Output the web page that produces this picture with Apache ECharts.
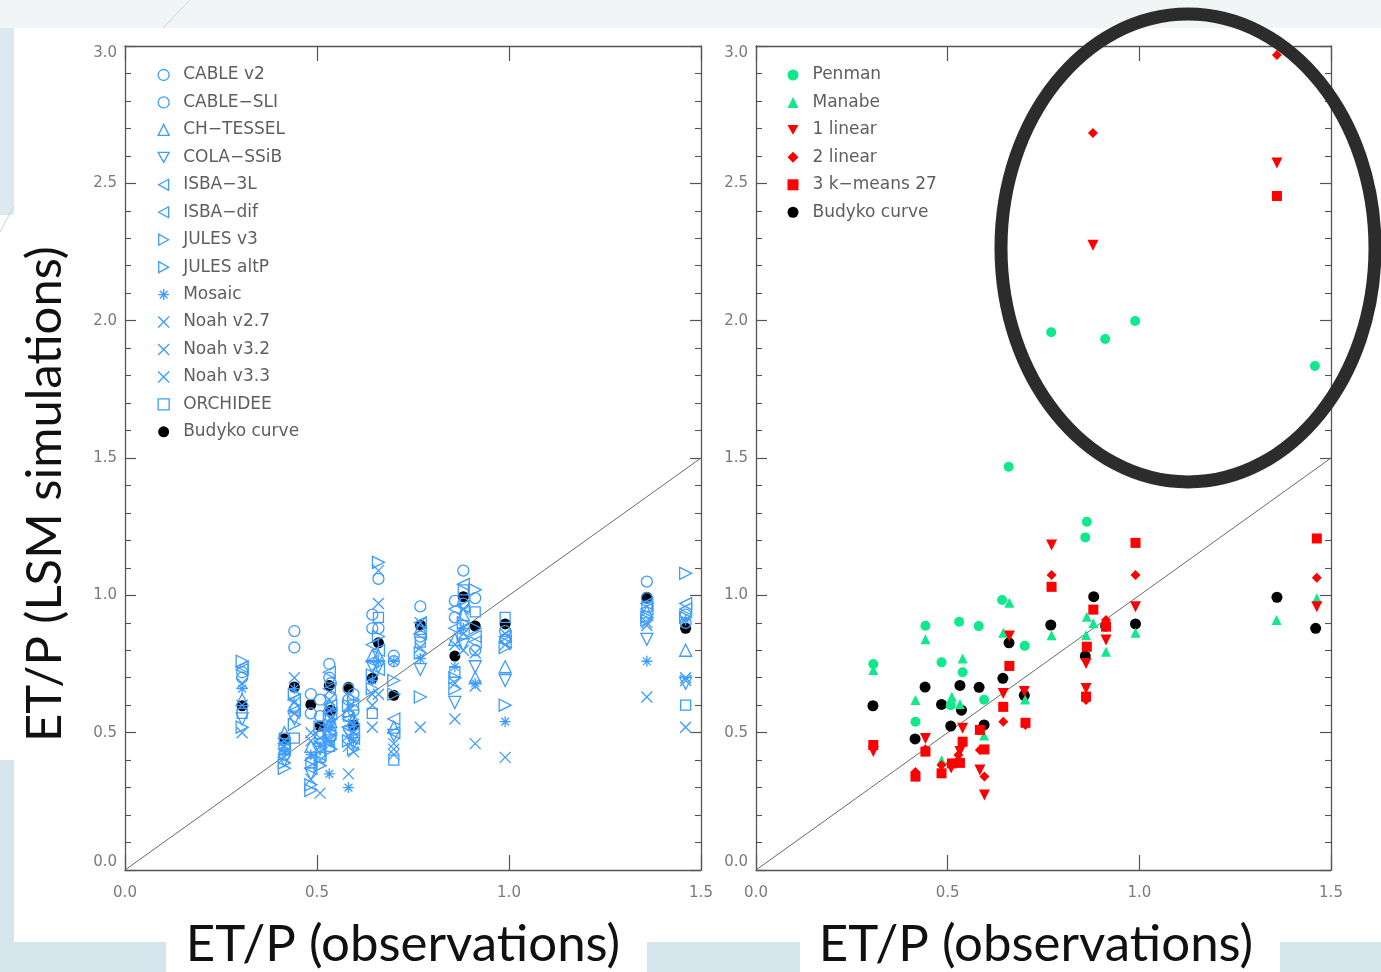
<!DOCTYPE html>
<html><head><meta charset="utf-8">
<script src="https://cdn.jsdelivr.net/npm/echarts@6/dist/echarts.min.js"></script>
<style>html,body{margin:0;padding:0;background:#fff}#c{width:1381px;height:972px}</style>
</head><body><div id="c"></div>
<script>
// ---------------- DATA ----------------
const xTicks = [0.0, 0.5, 1.0, 1.5];
const yTicks = [0.0, 0.5, 1.0, 1.5, 2.0, 2.5, 3.0];
const sitesX = [0.305,0.415,0.441,0.484,0.508,0.532,0.536,0.582,0.595,0.644,0.660,0.700,0.769,0.859,0.881,0.912,0.990,1.359,1.460];
const budyko = [0.598,0.477,0.666,0.603,0.524,0.672,0.582,0.665,0.528,0.698,0.827,0.636,0.892,0.779,0.995,0.888,0.896,0.993,0.880];
const cableV2   = [0.72,0.45,0.87,0.64,0.62,0.75,0.68,0.66,0.64,0.93,1.06,0.78,0.96,0.98,1.09,0.99,0.84,1.05,0.93];
const cableSLI  = [0.70,0.42,0.81,0.57,0.56,0.70,0.63,0.62,0.58,0.88,0.88,0.76,0.85,0.92,0.97,0.80,0.87,0.99,0.90];
const chTessel  = [0.62,0.50,0.60,0.45,0.50,0.60,0.54,0.58,0.55,0.78,0.78,0.52,0.88,0.84,0.93,0.70,0.74,0.94,0.80];
const colaSSiB  = [0.55,0.40,0.55,0.35,0.44,0.52,0.47,0.50,0.46,0.74,0.74,0.49,0.73,0.61,0.82,0.74,0.69,0.84,0.68];
const isba3L    = [0.74,0.44,0.62,0.40,0.47,0.72,0.60,0.55,0.51,0.82,0.73,0.55,0.90,0.95,1.04,0.85,0.83,0.97,0.97];
const isbaDif   = [0.73,0.46,0.58,0.37,0.42,0.66,0.57,0.52,0.48,0.76,0.80,0.50,0.86,0.88,0.96,0.83,0.85,0.95,0.95];
const julesV3   = [0.76,0.37,0.64,0.29,0.52,0.55,0.50,0.60,0.62,0.71,1.12,0.69,0.63,0.66,0.90,1.02,0.60,0.92,1.08];
const julesAltP = [0.52,0.39,0.53,0.31,0.38,0.49,0.44,0.47,0.44,0.66,0.85,0.64,0.79,0.70,0.85,0.88,0.81,0.91,0.92];
const mosaic    = [0.66,0.43,0.66,0.42,0.45,0.35,0.52,0.30,0.47,0.69,0.76,0.76,0.77,0.74,0.88,0.68,0.54,0.76,0.91];
const noah27    = [0.68,0.47,0.70,0.50,0.28,0.62,0.55,0.35,0.50,0.52,1.09,0.46,0.52,0.55,0.80,0.46,0.41,0.63,0.52];
const noah32    = [0.60,0.41,0.61,0.33,0.40,0.47,0.46,0.49,0.43,0.60,0.97,0.42,0.90,0.82,0.95,0.79,0.82,0.90,0.70];
const noah33    = [0.50,0.45,0.57,0.47,0.48,0.58,0.53,0.45,0.53,0.64,0.64,0.44,0.81,0.68,0.86,0.67,0.86,0.89,0.69];
const orchidee  = [0.57,0.48,0.48,0.39,0.41,0.45,0.49,0.56,0.60,0.57,0.92,0.40,0.83,0.72,1.02,0.94,0.92,0.96,0.60];

const penman = [[0.306,0.75],[0.416,0.54],[0.442,0.889],[0.484,0.756],[0.508,0.60],[0.530,0.904],[0.539,0.72],[0.581,0.888],[0.595,0.62],[0.642,0.983],[0.659,1.468],[0.701,0.816],[0.770,1.958],[0.859,1.211],[0.863,1.268],[0.911,1.933],[0.989,1.999],[1.458,1.835]];
const manabe = [[0.306,0.728],[0.416,0.619],[0.442,0.84],[0.484,0.40],[0.511,0.631],[0.532,0.604],[0.539,0.77],[0.595,0.49],[0.645,0.864],[0.661,0.973],[0.702,0.621],[0.771,0.855],[0.861,0.855],[0.863,0.922],[0.880,0.898],[0.913,0.795],[0.990,0.864],[1.358,0.91],[1.463,0.989]];
const linear1 = [[0.306,0.431],[0.442,0.479],[0.509,0.371],[0.532,0.431],[0.539,0.516],[0.584,0.364],[0.596,0.273],[0.645,0.643],[0.661,0.852],[0.700,0.65],[0.771,1.183],[0.861,0.752],[0.861,0.661],[0.879,2.275],[0.913,0.837],[0.990,0.958],[1.359,2.574],[1.463,0.958]];
const linear2 = [[0.306,0.449],[0.416,0.357],[0.442,0.44],[0.484,0.382],[0.528,0.419],[0.584,0.437],[0.596,0.34],[0.645,0.54],[0.703,0.528],[0.771,1.074],[0.861,0.619],[0.879,2.683],[0.913,0.91],[0.990,1.074],[1.359,2.967],[1.463,1.064]];
const kmeans27 = [[0.306,0.455],[0.416,0.34],[0.442,0.431],[0.484,0.352],[0.511,0.388],[0.532,0.39],[0.539,0.467],[0.584,0.51],[0.596,0.439],[0.645,0.594],[0.661,0.743],[0.703,0.536],[0.771,1.031],[0.861,0.631],[0.863,0.813],[0.880,0.948],[0.913,0.886],[0.990,1.191],[1.359,2.454],[1.463,1.207]];
const oneToOne = [[0,0],[1.5,1.5]];

// ---------------- STYLE ----------------
const BLUE = '#3d9cff', GREEN = '#10e88c', RED = '#ff0000';
const SYM = {
  circle: 'circle', up: 'triangle',
  down: 'path://M0,0L10,0L5,9Z',
  left: 'path://M9,0L9,10L0,5Z',
  right: 'path://M0,0L0,10L9,5Z',
  star: 'path://M5,0L5,10M0,5L10,5M1.5,1.5L8.5,8.5M8.5,1.5L1.5,8.5',
  cross: 'path://M0,0L10,10M10,0L0,10',
  square: 'rect', diamond: 'diamond'
};
const leftModels = [
  ['CABLE v2', cableV2, 'circle', 11], ['CABLE\u2212SLI', cableSLI, 'circle', 11],
  ['CH\u2212TESSEL', chTessel, 'up', 12], ['COLA\u2212SSiB', colaSSiB, 'down', 12],
  ['ISBA\u22123L', isba3L, 'left', 12], ['ISBA\u2212dif', isbaDif, 'left', 12],
  ['JULES v3', julesV3, 'right', 12], ['JULES altP', julesAltP, 'right', 12],
  ['Mosaic', mosaic, 'star', 11], ['Noah v2.7', noah27, 'cross', 11],
  ['Noah v3.2', noah32, 'cross', 11], ['Noah v3.3', noah33, 'cross', 11],
  ['ORCHIDEE', orchidee, 'square', 10]
];
const rightModels = [
  ['Penman', penman, 'circle', GREEN, 10],
  ['Manabe', manabe, 'up', GREEN, 10],
  ['1 linear', linear1, 'down', RED, 11],
  ['2 linear', linear2, 'diamond', RED, 10],
  ['3 k\u2212means 27', kmeans27, 'square', RED, 10]
];

const AX = '#555', LBL = '#7a7a7a';
function xAxes(grid) {
  const base = {gridIndex: grid, type: 'value', min: 0, max: 1.5, interval: 0.5,
    axisLine: {show: true, onZero: false, lineStyle: {color: AX, width: 1.3}},
    axisTick: {show: true, inside: true, length: 15, lineStyle: {color: AX, width: 1.2}},
    splitLine: {show: false}, minorTick: {show: false}};
  return [
    Object.assign({}, base, {position: 'bottom', axisLabel: {show: true, margin: 16, color: LBL, fontSize: 15, fontFamily: 'DejaVu Sans', formatter: v => v.toFixed(1)}}),
    Object.assign({}, base, {position: 'top', axisLabel: {show: false}})
  ];
}
function yAxes(grid) {
  const base = {gridIndex: grid, type: 'value', min: 0, max: 3, interval: 0.5,
    axisLine: {show: true, onZero: false, lineStyle: {color: AX, width: 1.3}},
    axisTick: {show: true, inside: true, length: 11, lineStyle: {color: AX, width: 1.2}},
    minorTick: {show: true, splitNumber: 5, length: 6, lineStyle: {color: AX, width: 1.1}},
    splitLine: {show: false}};
  return [
    Object.assign({}, base, {position: 'left', axisLabel: {show: true, margin: 8, color: LBL, fontSize: 15, fontFamily: 'DejaVu Sans',
      verticalAlignMaxLabel: 'top', verticalAlignMinLabel: 'bottom', formatter: v => v.toFixed(1)}}),
    Object.assign({}, base, {position: 'right', axisLabel: {show: false}})
  ];
}

const series = [];
[0, 1].forEach(g => series.push({type: 'line', xAxisIndex: g * 2, yAxisIndex: g * 2, data: oneToOne,
  symbol: 'none', silent: true, z: 1, lineStyle: {color: '#6a6a6a', width: 1}, animation: false}));
[0, 1].forEach(g => series.push({type: 'scatter', name: 'Budyko curve', xAxisIndex: g * 2, yAxisIndex: g * 2,
  symbol: 'circle', symbolSize: 11, itemStyle: {color: '#000', opacity: 1}, z: 2,
  data: sitesX.map((x, i) => [x, budyko[i]])}));
leftModels.forEach(m => series.push({type: 'scatter', name: m[0], xAxisIndex: 0, yAxisIndex: 0,
  symbol: SYM[m[2]], symbolSize: m[3], z: 3,
  itemStyle: {color: 'rgba(0,0,0,0)', borderColor: BLUE, borderWidth: 1.3, opacity: 1},
  data: sitesX.map((x, i) => [x, m[1][i]])}));
rightModels.forEach(m => series.push({type: 'scatter', name: m[0], xAxisIndex: 2, yAxisIndex: 2,
  symbol: SYM[m[2]], symbolSize: m[4], z: 3, itemStyle: {color: m[3], opacity: 1}, data: m[1]}));
series.forEach(s => { s.emphasis = {disabled: true}; });

const legendCommon = {orient: 'vertical', padding: 0, itemWidth: 11, itemHeight: 11, itemGap: 10.45,
  selectedMode: false, itemStyle: {borderWidth: 1.3, opacity: 1},
  textStyle: {color: '#5e5e5e', fontSize: 17, fontFamily: 'DejaVu Sans', padding: [0, 0, 0, 9]}};

const TITLE = {fill: '#111', fontFamily: 'Lato', fontWeight: 400, align: 'center', verticalAlign: 'middle'};

const option = {
  animation: false,
  backgroundColor: '#f1f5f6',
  grid: [
    {left: 125, right: 680, top: 46, bottom: 102, outerBoundsMode: 'none'},
    {left: 756, right: 50, top: 46, bottom: 102, outerBoundsMode: 'none'}
  ],
  xAxis: xAxes(0).concat(xAxes(1)),
  yAxis: yAxes(0).concat(yAxes(1)),
  legend: [
    Object.assign({}, legendCommon, {left: 157.5, top: 66.5, data: leftModels.map(m => m[0]).concat(['Budyko curve'])}),
    Object.assign({}, legendCommon, {left: 787.5, top: 66.5, data: rightModels.map(m => m[0]).concat(['Budyko curve'])})
  ],
  graphic: [
    {type: 'rect', z: -10, shape: {x: 14, y: 28, width: 1367, height: 914}, style: {fill: '#ffffff'}},
    {type: 'rect', z: -10, shape: {x: 0, y: 28, width: 14, height: 944}, style: {fill: '#dde9ee'}},
    {type: 'rect', z: -9, shape: {x: 0, y: 215, width: 14, height: 545}, style: {fill: '#ffffff'}},
    {type: 'rect', z: -10, shape: {x: 0, y: 760, width: 14, height: 212}, style: {fill: '#d4e6ec'}},
    {type: 'rect', z: -10, shape: {x: 14, y: 942, width: 1367, height: 30}, style: {fill: '#d4e6ec'}},
    {type: 'rect', z: -9, shape: {x: 166, y: 930, width: 481, height: 42}, style: {fill: '#ffffff'}},
    {type: 'rect', z: -9, shape: {x: 800, y: 930, width: 480, height: 42}, style: {fill: '#ffffff'}},
    {type: 'line', z: -8, shape: {x1: 163, y1: 28, x2: 190, y2: 0}, style: {stroke: '#c9d8de', lineWidth: 1}},
    {type: 'line', z: -8, shape: {x1: 0, y1: 232, x2: 14, y2: 206}, style: {stroke: '#c9d8de', lineWidth: 1}},
    {type: 'text', z: 50, x: 403, y: 945, style: Object.assign({text: 'ET/P (observations)', fontSize: 51}, TITLE)},
    {type: 'text', z: 50, x: 1036, y: 945, style: Object.assign({text: 'ET/P (observations)', fontSize: 51}, TITLE)},
    {type: 'text', z: 50, x: 45, y: 494, rotation: Math.PI / 2, style: Object.assign({text: 'ET/P (LSM simulations)', fontSize: 49}, TITLE)},
    {type: 'ellipse', z: 100, shape: {cx: 1188, cy: 248, rx: 187, ry: 234}, style: {fill: 'none', stroke: '#2c2c2c', lineWidth: 13}}
  ],
  series: series
};
const chart = echarts.init(document.getElementById('c'), null, {renderer: 'canvas'});
chart.setOption(option);
</script></body></html>
